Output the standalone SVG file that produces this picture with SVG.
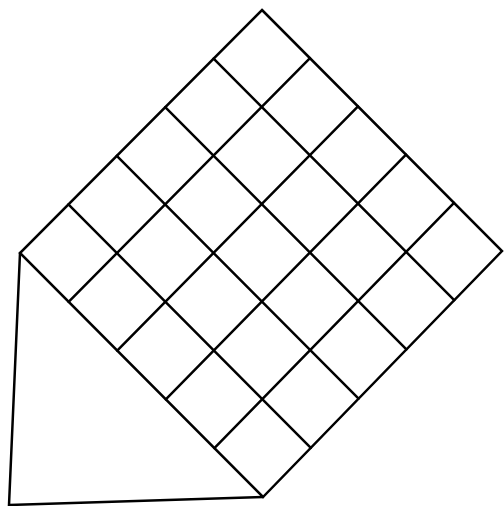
<svg xmlns="http://www.w3.org/2000/svg" width="504" height="506" viewBox="0 0 504 506">
<style>
.s{fill:none;stroke:#000;stroke-width:2.5;stroke-linejoin:miter;stroke-linecap:round}
</style>
<rect width="504" height="506" fill="#fff"/>
<g id="square">
<polygon class="s" points="262,10 502,251 263,497 20,253"/>
</g>
<g id="triangle">
<polyline class="s" points="20,253 9,505 263,497"/>
</g>
<g id="grid">
<line class="s" x1="310" y1="58.2" x2="68.6" y2="301.8"/>
<line class="s" x1="358" y1="106.4" x2="117.2" y2="350.6"/>
<line class="s" x1="406" y1="154.6" x2="165.8" y2="399.4"/>
<line class="s" x1="454" y1="202.8" x2="214.4" y2="448.2"/>
<line class="s" x1="213.6" y1="58.6" x2="454.2" y2="300.2"/>
<line class="s" x1="165.2" y1="107.2" x2="406.4" y2="349.4"/>
<line class="s" x1="116.8" y1="155.8" x2="358.6" y2="398.6"/>
<line class="s" x1="68.4" y1="204.4" x2="310.8" y2="447.8"/>
</g>
</svg>
